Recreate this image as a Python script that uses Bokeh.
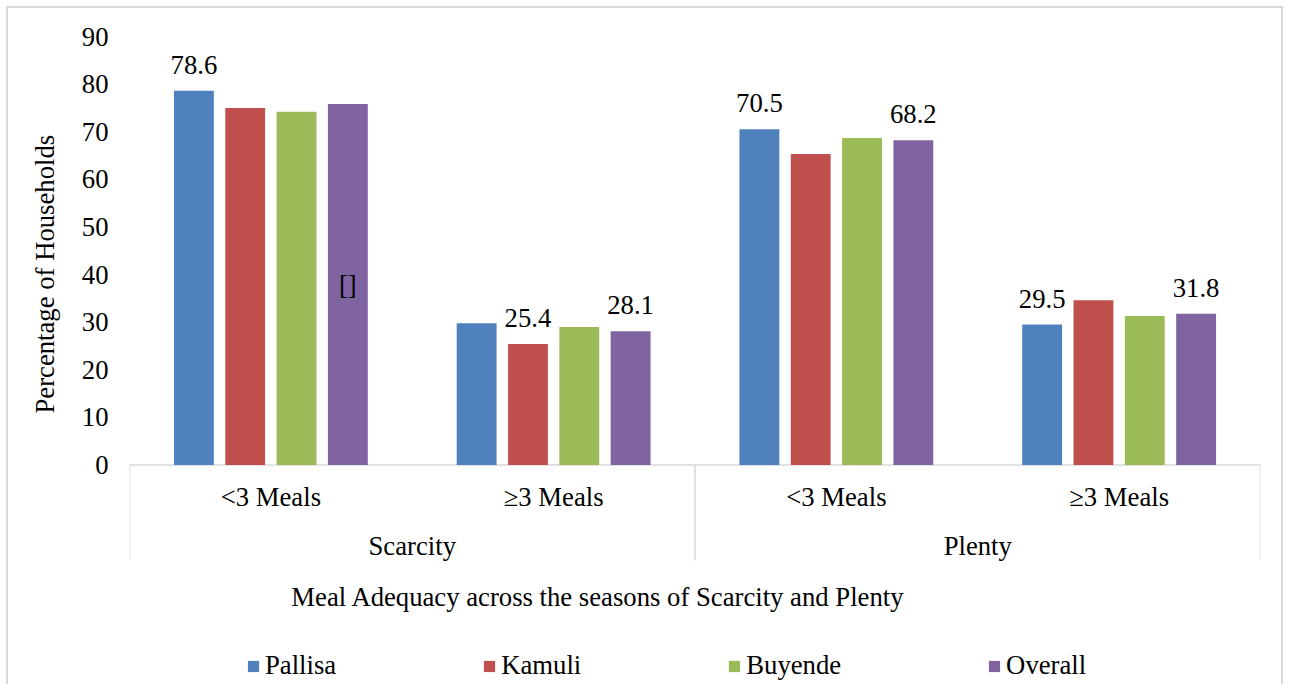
from bokeh.plotting import figure
from bokeh.models import ColumnDataSource, FactorRange, Range1d, FixedTicker, Legend, LegendItem, Title
from bokeh.transform import dodge
from bokeh.core.properties import value
from bokeh.embed import file_html
from bokeh.resources import INLINE

# ---------------- data ----------------
seasons = ["Scarcity", "Plenty"]
meals = ["<3 Meals", "≥3 Meals"]
series_names = ["Pallisa", "Kamuli", "Buyende", "Overall"]
pallisa = [78.6, 29.8, 70.5, 29.5]
kamuli = [75.0, 25.4, 65.3, 34.6]
buyende = [74.2, 29.0, 68.7, 31.3]
overall = [75.8, 28.1, 68.2, 31.8]
pallisa_labels = ["78.6", "", "70.5", "29.5"]
kamuli_labels = ["", "25.4", "", ""]
buyende_labels = ["", "", "", ""]
overall_labels = ["", "28.1", "68.2", "31.8"]
overall_inner_labels = ["[]", "", "", ""]
series_colors = ["#4F81BD", "#C0504D", "#9BBB59", "#8064A2"]
y_ticks = [0, 10, 20, 30, 40, 50, 60, 70, 80, 90]
y_title = "Percentage of Households"
x_title = "Meal Adequacy across the seasons of Scarcity and Plenty"

FONT = "Liberation Serif"
FS = "26.7px"
GRID = "#d9d9d9"

factors = [(s, m) for s in seasons for m in meals]
series_values = [pallisa, kamuli, buyende, overall]
series_labels = [pallisa_labels, kamuli_labels, buyende_labels, overall_labels]

data = dict(x=factors, overall_mid=[v / 2 for v in overall], overall_inner=overall_inner_labels)
for n, vals, labs in zip(series_names, series_values, series_labels):
    data[n] = vals
    data[n + "_lab"] = labs
src = ColumnDataSource(data)

p = figure(
    x_range=FactorRange(*factors, factor_padding=0, group_padding=0, range_padding=0),
    y_range=Range1d(-46.5, 90),
    width=1277, height=678,
    output_backend="svg", toolbar_location=None,
    x_axis_location=None,
    min_border_left=120, min_border_right=25, min_border_top=28, min_border_bottom=0,
)
p.styles = {
    "margin-left": "6px", "margin-top": "6px",
    "border-left": "2px solid #d9d9d9",
    "border-top": "2px solid #d9d9d9",
    "border-right": "2px solid #d9d9d9",
}
p.outline_line_color = None
p.xgrid.visible = False
p.ygrid.visible = False

ax = p.yaxis[0]
ax.ticker = FixedTicker(ticks=y_ticks)
ax.axis_line_color = None
ax.major_tick_line_color = None
ax.minor_tick_line_color = None
ax.major_tick_in = 0
ax.major_tick_out = 0
ax.major_label_standoff = 21
ax.major_label_text_font = FONT
ax.major_label_text_font_size = FS
ax.major_label_text_color = "black"

# y axis title, placed along the left side
p.add_layout(Title(text=y_title, align="left", offset=273, standoff=38,
                   text_font=FONT, text_font_size=FS, text_font_style="normal",
                   text_color="black"), "left")

# category box lines
n_cat = len(factors)
p.segment(x0=[0], y0=[0], x1=[n_cat], y1=[0], line_color=GRID, line_width=1.5)
sep_x = [i * len(meals) for i in range(len(seasons) + 1)]
p.segment(x0=sep_x, y0=[0] * len(sep_x), x1=sep_x, y1=[-20] * len(sep_x),
          line_color=GRID, line_width=1.5)

# bars
step = 0.1815
bar_w = 0.141
renderers = []
for j, (n, c) in enumerate(zip(series_names, series_colors)):
    off = (j - 1.5) * step
    r = p.vbar(x=dodge("x", off, range=p.x_range), top=n, width=bar_w, bottom=0,
               source=src, fill_color=c, line_color=None)
    renderers.append(r)
    p.text(x=dodge("x", off, range=p.x_range), y=n, text=n + "_lab", source=src,
           y_offset=-26, text_align="center", text_baseline="alphabetic",
           text_font=value(FONT), text_font_size=FS, text_color="black")

p.text(x=dodge("x", 1.5 * step, range=p.x_range), y="overall_mid", text="overall_inner",
       source=src, text_align="center", text_baseline="middle",
       text_font=value(FONT), text_font_size=FS, text_color="black")

# category labels (two levels)
p.text(x=factors, y=[-6.6] * len(factors), text=[f[1] for f in factors],
       text_align="center", text_baseline="middle",
       text_font=value(FONT), text_font_size=FS, text_color="black")
p.text(x=seasons, y=[-16.9] * len(seasons), text=seasons,
       text_align="center", text_baseline="middle",
       text_font=value(FONT), text_font_size=FS, text_color="black")

# axis title (x)
p.text(x=[0.5724], y=[-27.6], text=[x_title], text_align="left", text_baseline="middle",
       text_font=value(FONT), text_font_size=FS, text_color="black")

legend = Legend(
    items=[LegendItem(label=n, renderers=[r]) for n, r in zip(series_names, renderers)],
    orientation="horizontal", location=(117, 5), spacing=146,
    glyph_width=14, glyph_height=14, label_standoff=5, padding=0, margin=0,
    border_line_color=None, background_fill_alpha=0,
    label_text_font=FONT, label_text_font_size=FS, label_text_color="black",
)
p.add_layout(legend, "center")

open("out.html", "w").write(file_html(p, INLINE))
